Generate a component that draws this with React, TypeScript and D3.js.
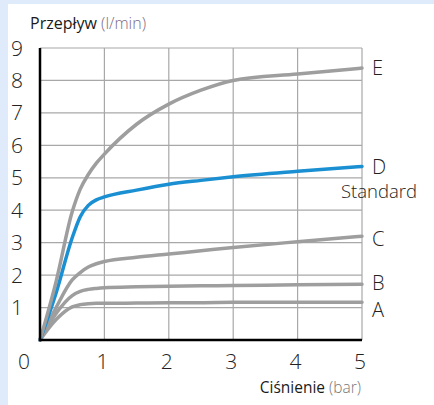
import * as d3 from "d3";

// ciśnienie (bar) - wspólna oś x dla wszystkich krzywych
const pressure = [0, 0.25, 0.5, 0.625, 0.75, 0.875, 1, 1.5, 2, 2.5, 3, 4, 5];

const flowE = [0, 1.8, 3.95, 4.65, 5.1, 5.45, 5.73, 6.65, 7.27, 7.7, 8.0, 8.2, 8.38];
const flowD = [0, 1.45, 3.15, 3.8, 4.15, 4.32, 4.41, 4.62, 4.8, 4.92, 5.03, 5.2, 5.35];
const flowC = [0, 1.0, 1.85, 2.08, 2.25, 2.35, 2.42, 2.55, 2.65, 2.75, 2.85, 3.03, 3.2];
const flowB = [0, 0.82, 1.37, 1.5, 1.56, 1.59, 1.61, 1.64, 1.66, 1.67, 1.68, 1.7, 1.72];
const flowA = [0, 0.63, 1.02, 1.09, 1.12, 1.13, 1.13, 1.14, 1.15, 1.15, 1.16, 1.16, 1.16];

const seriesNames = ["A", "B", "C", "D", "E"];
const xTicks = [0, 1, 2, 3, 4, 5];
const yTicks = [0, 1, 2, 3, 4, 5, 6, 7, 8, 9];

const W = 434;
const H = 405;
const FONT = "'Open Sans', 'Liberation Sans', sans-serif";

export default function App() {
  const x = d3.scaleLinear().domain([0, 5]).range([40, 362]);
  const y = d3.scaleLinear().domain([0, 9]).range([340, 48]);

  const line = d3
    .line<number>()
    .x((_, i) => x(pressure[i]))
    .y((d) => y(d))
    .curve(d3.curveMonotoneX);

  const series = [
    { name: seriesNames[0], values: flowA, color: "#9e9e9e", dy: 7 },
    { name: seriesNames[1], values: flowB, color: "#9e9e9e", dy: -1 },
    { name: seriesNames[2], values: flowC, color: "#9e9e9e", dy: 3 },
    { name: seriesNames[3], values: flowD, color: "#1a8fd2", dy: 0 },
    { name: seriesNames[4], values: flowE, color: "#9e9e9e", dy: 0 },
  ];

  return (
    <svg
      width={W}
      height={H}
      style={{ position: "absolute", left: 0, top: 0, background: "#fff" }}
      fontFamily={FONT}
    >
      <rect x={0} y={0} width={8} height={H} fill="#dfeafb" />
      <rect x={0} y={0} width={W} height={4} fill="#dfeafb" />

      {/* siatka */}
      {yTicks.slice(1).map((t) => (
        <line key={"gy" + t} x1={x(0)} x2={x(5)} y1={y(t)} y2={y(t)} stroke="#a8a8a8" strokeWidth={1.2} />
      ))}
      {xTicks.slice(1).map((t) => (
        <line key={"gx" + t} x1={x(t)} x2={x(t)} y1={y(9)} y2={y(0)} stroke="#a8a8a8" strokeWidth={1.2} />
      ))}

      {/* krzywe */}
      {series.map((s) => (
        <path
          key={s.name}
          d={line(s.values) || ""}
          fill="none"
          stroke={s.color}
          strokeWidth={3.5}
          strokeLinecap="round"
          strokeLinejoin="round"
        />
      ))}

      {/* osie */}
      <line x1={x(0)} x2={x(0)} y1={y(9)} y2={y(0) + 1.25} stroke="#000" strokeWidth={2.5} />
      <line x1={x(0)} x2={x(5)} y1={y(0)} y2={y(0)} stroke="#000" strokeWidth={2.5} />

      {/* etykiety osi y */}
      {yTicks.slice(1).map((t) => (
        <text key={"ty" + t} x={17} y={y(t)} dy="0.36em" textAnchor="middle" fontSize={21} fontWeight={300} fill="#222">
          {t}
        </text>
      ))}
      {/* etykiety osi x */}
      {xTicks.map((t) => (
        <text
          key={"tx" + t}
          x={t === 0 ? 24 : x(t) - 2}
          y={361}
          dy="0.36em"
          textAnchor="middle"
          fontSize={21}
          fontWeight={300}
          fill="#222"
        >
          {t}
        </text>
      ))}

      {/* nazwy krzywych */}
      {series.map((s) => (
        <text
          key={"l" + s.name}
          x={372}
          y={y(s.values[s.values.length - 1]) + s.dy}
          dy="0.36em"
          fontSize={20}
          fontWeight={300}
          fill="#222"
        >
          {s.name}
        </text>
      ))}
      <text x={379} y={198} textAnchor="middle" fontSize={18.5} fontWeight={300} fill="#222">
        Standard
      </text>

      {/* tytuły osi */}
      <text x={30} y={29} fontSize={16} fill="#1a1a1a">
        Przepływ <tspan fill="#7a6a86" fontWeight={300}>(l/min)</tspan>
      </text>
      <text x={361} y={393} textAnchor="end" fontSize={15.5} fill="#1a1a1a">
        Ciśnienie <tspan fill="#777" fontWeight={300}>(bar)</tspan>
      </text>
    </svg>
  );
}
